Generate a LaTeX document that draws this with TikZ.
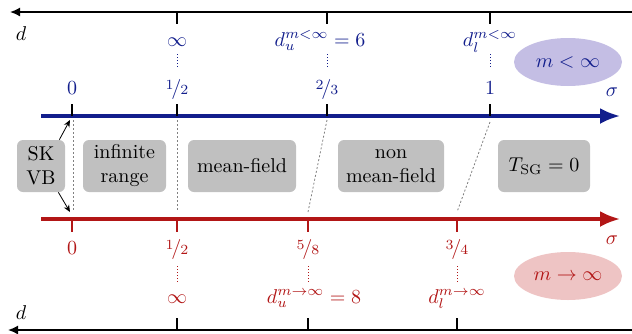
\documentclass[tikz,border=0pt]{standalone}
\usepackage{nicefrac}
\usetikzlibrary{arrows.meta,shapes.geometric}
\definecolor{bblue}{RGB}{18,30,140}
\definecolor{rred}{RGB}{178,22,22}
\definecolor{boxgray}{RGB}{192,192,192}
\definecolor{eblue}{RGB}{196,190,228}
\definecolor{ered}{RGB}{238,196,196}
\tikzset{
  graybox/.style={fill=boxgray, rounded corners=3pt, inner sep=0pt, align=center, font=\normalsize},
  daxis/.style={line width=0.8pt, -{Latex[length=5pt,width=4.5pt]}},
  saxis/.style={line width=1.6pt, -{Latex[length=10pt,width=8pt]}},
  tickk/.style={line width=0.8pt},
  sep/.style={gray, line width=0.4pt, dash pattern=on 1pt off 1pt},
  vdots/.style={line width=0.5pt, dash pattern=on 0.6pt off 0.9pt},
  lbl/.style={inner sep=1pt},
}
\begin{document}
\begin{tikzpicture}[x=0.5pt,y=-0.5pt]
\useasboundingbox (0,0) rectangle (632,333);
% top d axis
\coordinate (tR) at (634,12); \coordinate (tL) at (10,12);
\draw[daxis] (tR) -- (tL);
\node[lbl] (dtop) at (21,34) {$d$};
\foreach \x/\n in {177/a,327/b,490/c}{
  \coordinate (tt\n) at (\x,12); \coordinate (tb\n) at (\x,24);
  \draw[tickk] (tt\n) -- (tb\n);
}
% blue labels
\node[lbl, bblue, anchor=base] (binf) at (177,46) {$\infty$};
\node[lbl, bblue, anchor=base] (bdu) at (320,46) {$d_u^{m<\infty}=6$};
\node[lbl, bblue, anchor=base] (bdl) at (490,46) {$d_l^{m<\infty}$};
\foreach \x/\n in {177/a,327/b,490/c}{
  \coordinate (bd1\n) at (\x,54); \coordinate (bd2\n) at (\x,67);
  \draw[bblue, vdots] (bd1\n) -- (bd2\n);
}
\node[lbl, bblue, anchor=base] (b0) at (72,94) {$0$};
\node[lbl, bblue, anchor=base] (b12) at (177,94) {$\nicefrac{1}{2}$};
\node[lbl, bblue, anchor=base] (b23) at (327,94) {$\nicefrac{2}{3}$};
\node[lbl, bblue, anchor=base] (b1) at (490,94) {$1$};
\node[lbl, bblue] (bsig) at (612,92) {$\sigma$};
\node[ellipse, fill=eblue, minimum width=54pt, minimum height=24pt, inner sep=0pt] (bell) at (568,62) {};
\node[lbl, bblue] at (bell) {$m<\infty$};
% blue axis
\coordinate (bL) at (41,116); \coordinate (bR) at (620,116);
\draw[bblue, saxis] (bL) -- (bR);
\foreach \x/\n in {72/z,177/a,327/b,490/c}{
  \coordinate (bt\n) at (\x,104); \coordinate (bb\n) at (\x,116);
  \draw[tickk] (bt\n) -- (bb\n);
}
% red axis
\coordinate (rL) at (41,219); \coordinate (rR) at (620,219);
\draw[rred, saxis] (rL) -- (rR);
\foreach \x/\n in {72/z,177/a,308/b,457/c}{
  \coordinate (rt\n) at (\x,219); \coordinate (rb\n) at (\x,232);
  \draw[rred, line width=0.8pt] (rt\n) -- (rb\n);
}
% separators
\coordinate (s1a) at (73,120); \coordinate (s1b) at (73,212);
\coordinate (s2a) at (177,120); \coordinate (s2b) at (177,210);
\coordinate (s3a) at (327,120); \coordinate (s3b) at (308,212);
\coordinate (s4a) at (490,122); \coordinate (s4b) at (457,212);
\draw[sep] (s1a) -- (s1b);
\draw[sep] (s2a) -- (s2b);
\draw[sep] (s3a) -- (s3b);
\draw[sep] (s4a) -- (s4b);
% boxes
\node[graybox, minimum width=24pt, minimum height=26pt] (sk) at (41,166) {SK\\VB};
\node[graybox, minimum width=41.5pt, minimum height=26pt] (inf) at (124.5,166) {infinite\\range};
\node[graybox, minimum width=54pt, minimum height=26pt] (mf) at (242,166) {mean-field};
\node[graybox, minimum width=53pt, minimum height=26pt] (nmf) at (391,166) {non\\mean-field};
\node[graybox, minimum width=46pt, minimum height=26pt] (tsg) at (544,166) {$T_{\mathrm{SG}}=0$};
\coordinate (arU) at (70,120); \coordinate (arD) at (70,212);
\draw[-{Stealth[length=3.5pt,width=3pt]}, line width=0.4pt] (sk.north east) ++(-6,0) coordinate (skU) -- (arU);
\draw[-{Stealth[length=3.5pt,width=3pt]}, line width=0.4pt] (sk.south east) ++(-7,0) coordinate (skD) -- (arD);
% red labels
\node[lbl, rred, anchor=base] (r0) at (72,254) {$0$};
\node[lbl, rred, anchor=base] (r12) at (177,254) {$\nicefrac{1}{2}$};
\node[lbl, rred, anchor=base] (r58) at (308,254) {$\nicefrac{5}{8}$};
\node[lbl, rred, anchor=base] (r34) at (457,254) {$\nicefrac{3}{4}$};
\node[lbl, rred] (rsig) at (612,240) {$\sigma$};
\foreach \x/\n in {177/a,308/b,457/c}{
  \coordinate (rd1\n) at (\x,266); \coordinate (rd2\n) at (\x,282);
  \draw[rred, vdots] (rd1\n) -- (rd2\n);
}
\node[ellipse, fill=ered, minimum width=54pt, minimum height=24pt, inner sep=0pt] (rell) at (568,276) {};
\node[lbl, rred] at (rell) {$m\to\infty$};
\node[lbl, rred, anchor=base] (rinf) at (177,303) {$\infty$};
\node[lbl, rred, anchor=base] (rdu) at (314,303) {$d_u^{m\to\infty}=8$};
\node[lbl, rred, anchor=base] (rdl) at (457,303) {$d_l^{m\to\infty}$};
% bottom d axis
\node[lbl] (dbot) at (21,313) {$d$};
\coordinate (dR) at (634,330); \coordinate (dL) at (8,330);
\draw[daxis] (dR) -- (dL);
\foreach \x/\n in {177/a,308/b,457/c}{
  \coordinate (dt\n) at (\x,318); \coordinate (db\n) at (\x,330);
  \draw[tickk] (dt\n) -- (db\n);
}
\end{tikzpicture}
\end{document}
